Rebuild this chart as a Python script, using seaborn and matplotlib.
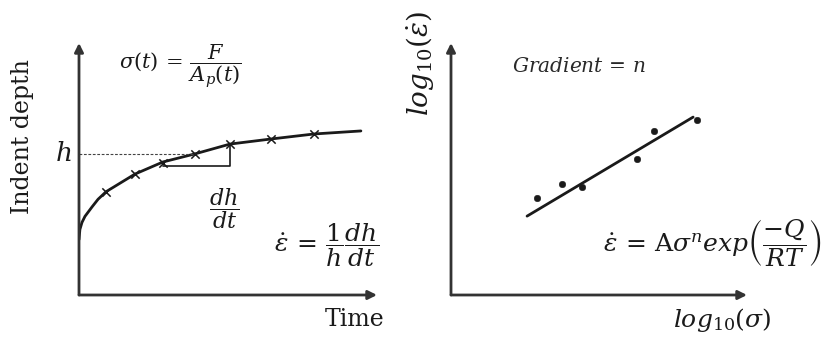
import matplotlib
matplotlib.use("Agg")
import matplotlib.pyplot as plt
import seaborn as sns
import pandas as pd

# Indentation creep curve (time vs. indent depth, arbitrary units)
curve_time = [0.0, 0.03, 0.1, 0.2, 0.44, 0.64, 0.91, 1.88, 2.82, 3.89, 5.07, 6.44, 7.89, 9.46]
curve_depth = [2.2, 2.6, 2.88, 3.12, 3.5, 3.8, 4.1, 4.8, 5.28, 5.6, 5.99, 6.19, 6.39, 6.51]

# Measured points along the creep curve
meas_time = [0.91, 1.88, 2.82, 3.89, 5.07, 6.44, 7.89]
meas_depth = [4.1, 4.8, 5.24, 5.6, 5.99, 6.19, 6.39]

# Strain rate vs. stress (log-log, arbitrary units)
log_stress = [2.9, 3.75, 4.43, 6.28, 6.86, 8.31]
log_rate = [3.85, 4.40, 4.29, 5.40, 6.51, 6.94]
fit_stress = [2.57, 8.18]
fit_rate = [3.13, 7.06]

sns.set_theme(style="white")
plt.rcParams["font.family"] = ["DejaVu Serif"]
plt.rcParams["mathtext.fontset"] = "dejavuserif"

INK = "#1a1a1a"
AXC = "#333333"

W, H = 830, 341
fig = plt.figure(figsize=(W / 100, H / 100), dpi=100)
fig.patch.set_facecolor("white")

ax1 = fig.add_axes([79 / W, 46 / H, 298 / W, 252 / H])
ax2 = fig.add_axes([451 / W, 46 / H, 296 / W, 252 / H])

for ax in (ax1, ax2):
    ax.set_xticks([])
    ax.set_yticks([])
    for s in ax.spines.values():
        s.set_visible(False)
    ax.set_facecolor("none")
    arrow = dict(arrowstyle="-|>", lw=2.0, color=AXC, mutation_scale=13,
                 shrinkA=0, shrinkB=0)
    ax.annotate("", xy=(1, 0), xytext=(0, 0), xycoords="axes fraction",
                textcoords="axes fraction", arrowprops=arrow, annotation_clip=False)
    ax.annotate("", xy=(0, 1), xytext=(0, 0), xycoords="axes fraction",
                textcoords="axes fraction", arrowprops=arrow, annotation_clip=False)

# Left: creep curve
curve = pd.DataFrame({"t": curve_time, "d": curve_depth})
meas = pd.DataFrame({"t": meas_time, "d": meas_depth})
sns.lineplot(data=curve, x="t", y="d", ax=ax1, color=INK, lw=2.0, sort=False)
sns.scatterplot(data=meas, x="t", y="d", ax=ax1, marker="x", s=36,
                color=INK, linewidth=1.1, zorder=3)

# Reference depth h (dashed) and slope triangle dh/dt
ax1.plot([0, meas_time[3]], [meas_depth[3]] * 2, ls=(0, (2.5, 1.5)), lw=0.8, color="#444444")
ax1.plot([meas_time[2], meas_time[4], meas_time[4]],
         [meas_depth[2] - 0.11, meas_depth[2] - 0.11, meas_depth[4]], lw=1.2, color=INK)

ax1.text(-0.25, meas_depth[3], r"$h$", fontsize=19, ha="right", va="center", color=INK)
ax1.text(-1.91, 6.27, "Indent depth", fontsize=17, rotation=90, ha="center", va="center", color=INK)
ax1.text(9.26, -0.99, "Time", fontsize=17, ha="center", va="center", color=INK)
ax1.text(3.39, 9.05, r"$\sigma(t)\,=\,\dfrac{F}{A_{p}(t)}$", fontsize=15, ha="center", va="center", color=INK)
ax1.text(4.87, 3.45, r"$\dfrac{dh}{dt}$", fontsize=16, ha="center", va="center", color=INK)
ax1.text(8.32, 1.98, r"$\dot{\varepsilon}\,=\,\dfrac{1}{h}\dfrac{dh}{dt}$", fontsize=18, ha="center", va="center", color=INK)

# Right: log-log strain rate vs stress
pts = pd.DataFrame({"s": log_stress, "r": log_rate})
fit = pd.DataFrame({"s": fit_stress, "r": fit_rate})
sns.lineplot(data=fit, x="s", y="r", ax=ax2, color=INK, lw=2.0)
sns.scatterplot(data=pts, x="s", y="r", ax=ax2, s=22, color=INK, edgecolor=INK, zorder=3)

ax2.text(4.32, 9.05, r"$Gradient\,=\,n$", fontsize=14.5, ha="center", va="center", color="#2a2a2a")
ax2.text(-1.05, 9.2, r"$log_{10}(\dot{\varepsilon})$", fontsize=20, rotation=90, ha="center", va="center", color=INK)
ax2.text(9.16, -0.99, r"$log_{10}(\sigma)$", fontsize=18, ha="center", va="center", color=INK)
ax2.text(5.14, 2.06, r"$\dot{\varepsilon}\,=\,\mathrm{A}\sigma^{n}exp\left(\dfrac{-Q}{RT}\right)$",
         fontsize=18, ha="left", va="center", color=INK)

for ax in (ax1, ax2):
    ax.set_xlabel("")
    ax.set_ylabel("")
    ax.set_xlim(0, 10)
    ax.set_ylim(0, 10)

fig.savefig("out.png", dpi=100, facecolor="white")
